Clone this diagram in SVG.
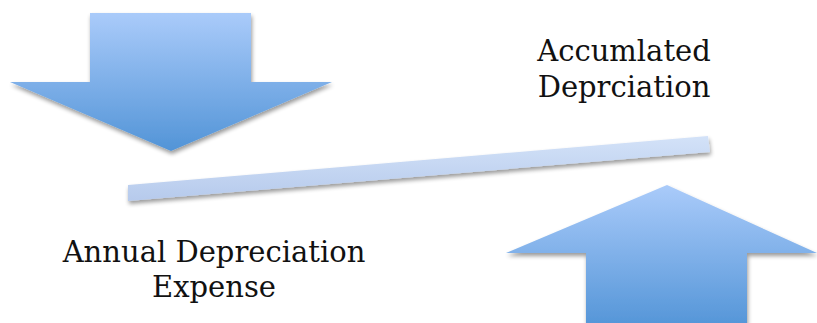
<svg xmlns="http://www.w3.org/2000/svg" width="817" height="323" viewBox="0 0 817 323">
<style>
.lbl{font-family:"DejaVu Serif","Liberation Serif",serif;font-size:29px;fill:#111;text-anchor:middle}
.arrow{fill:url(#ag);filter:url(#sh)}
</style>
<defs>
<linearGradient id="ag" x1="0" y1="0" x2="0" y2="1">
<stop offset="0" stop-color="#aacbfa"/>
<stop offset="1" stop-color="#5294d7"/>
</linearGradient>
<linearGradient id="bg" gradientUnits="userSpaceOnUse" x1="0" y1="136" x2="0" y2="201">
<stop offset="0" stop-color="#d3e2f8"/>
<stop offset="1" stop-color="#b6caec"/>
</linearGradient>
<filter id="sh" x="-10%" y="-10%" width="130%" height="140%">
<feGaussianBlur in="SourceAlpha" stdDeviation="2"/>
<feOffset dx="1" dy="3" result="b"/>
<feComponentTransfer><feFuncA type="linear" slope="0.4"/></feComponentTransfer>
<feMerge><feMergeNode/><feMergeNode in="SourceGraphic"/></feMerge>
</filter>
</defs>
<g id="down-arrow">
<polygon class="arrow" points="90,13 251,13 251,82 332,82 171,151 10,82 90,82"/>
</g>
<g id="up-arrow">
<polygon class="arrow" points="667,185 817,253 747,253 747,330 586,330 586,253 506,253"/>
</g>
<g id="bar">
<polygon points="128,185 708,136 710,152 128,201" fill="url(#bg)" filter="url(#sh)"/>
</g>
<g id="label-annual">
<text class="lbl" x="214" y="262">Annual Depreciation</text>
<text class="lbl" x="214" y="297">Expense</text>
</g>
<g id="label-accum">
<text class="lbl" x="624" y="61">Accumlated</text>
<text class="lbl" x="624" y="97">Deprciation</text>
</g>
</svg>
